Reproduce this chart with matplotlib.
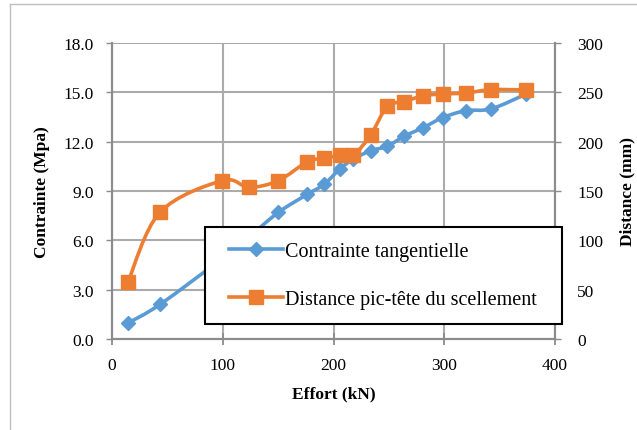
import numpy as np
import matplotlib
matplotlib.use("Agg")
import matplotlib.pyplot as plt
from matplotlib.path import Path
from matplotlib.patches import PathPatch
from matplotlib.lines import Line2D
from matplotlib.legend_handler import HandlerLine2D

# Data
effort = [14.5, 43.3, 99.6, 123.7, 150.2, 176.4, 191.4, 205.9, 218.0, 233.6,
          248.6, 263.7, 281.0, 298.6, 319.6, 342.2, 374.0]
contrainte = [0.97, 2.1, 4.9, 6.2, 7.7, 8.8, 9.4, 10.35, 10.95, 11.45,
              11.72, 12.33, 12.85, 13.46, 13.89, 13.99, 14.9]
distance = [58.1, 128.4, 160.5, 153.7, 160.5, 179.7, 183.1, 186.0, 186.5, 206.8,
            235.8, 240.5, 246.6, 248.3, 249.3, 252.7, 252.4]
xticks = [0, 100, 200, 300, 400]
yticks_left = [0, 3, 6, 9, 12, 15, 18]
yticks_right = [0, 50, 100, 150, 200, 250, 300]
label_blue = "Contrainte tangentielle"
label_orange = "Distance pic-tête du scellement"

BLUE = "#5B9BD5"
ORANGE = "#ED7D31"
GRID = "#ABABAB"
AXC = "#8C8C8C"

plt.rcParams['font.family'] = ['Liberation Serif', 'DejaVu Serif']

def smooth_path(x, y):
    x = np.asarray(x, float); y = np.asarray(y, float)
    P = np.column_stack([x, y])
    n = len(P)
    verts = [P[0]]
    codes = [Path.MOVETO]
    for i in range(n - 1):
        p0 = P[i - 1] if i > 0 else P[i]
        p1 = P[i]
        p2 = P[i + 1]
        p3 = P[i + 2] if i + 2 < n else P[i + 1]
        c1 = p1 + (p2 - p0) / 6.0
        c2 = p2 - (p3 - p1) / 6.0
        verts += [c1, c2, p2]
        codes += [Path.CURVE4] * 3
    return Path(verts, codes)

fig = plt.figure(figsize=(6.37, 4.31), dpi=100)
ax = fig.add_axes([112/637, 1 - 340/431, 443/637, 296/431])
ax2 = ax.twinx()

# smoothed lines
ax.add_patch(PathPatch(smooth_path(effort, contrainte), fill=False, edgecolor=BLUE, lw=2.6, zorder=3))
ax.plot(effort, contrainte, ls='none', marker='D', ms=7.5, color=BLUE, zorder=4)
ax2.add_patch(PathPatch(smooth_path(effort, distance), fill=False, edgecolor=ORANGE, lw=2.6, zorder=3))
ax2.plot(effort, distance, ls='none', marker='s', ms=9.5, color=ORANGE, zorder=4)

ax.set_xlim(0, 400)
ax.set_ylim(0, 18)
ax2.set_ylim(0, 300)
ax.set_xticks(xticks)
ax.set_yticks(yticks_left)
ax.set_yticklabels([f"{v:.1f}" for v in yticks_left])
ax2.set_yticks(yticks_right)
ax2.set_yticklabels([str(v) for v in yticks_right])

ax.grid(True, color=GRID, lw=1.5)
ax.set_axisbelow(True)
for a in (ax, ax2):
    a.spines['top'].set_visible(False)
    for s in ('left', 'right', 'bottom'):
        a.spines[s].set_color(AXC)
        a.spines[s].set_linewidth(1.5)
ax.tick_params(axis='y', direction='out', length=4, width=1, color=AXC, labelsize=12.5, pad=9)
ax.tick_params(axis='x', direction='inout', length=8, width=1.3, color=AXC, labelsize=12.5, pad=9)
ax2.tick_params(axis='y', direction='out', length=4, width=1, color=AXC, labelsize=12.5, pad=12)

ax.set_xlabel("Effort (kN)", fontsize=12.5, fontweight='bold', labelpad=9)
ax.set_ylabel("Contrainte (Mpa)", fontsize=12.5, fontweight='bold', labelpad=10)
ax2.set_ylabel("Distance (mm)", fontsize=12.5, fontweight='bold', labelpad=12, rotation=90)

handles = [Line2D([], [], color=BLUE, lw=2.6, marker='D', ms=7.5),
           Line2D([], [], color=ORANGE, lw=2.6, marker='s', ms=9.5)]
hm = {h: HandlerLine2D(xpad=0.45) for h in handles}
leg = ax2.legend(handles, [label_blue, label_orange], loc='upper left',
                 bbox_to_anchor=(0.21, 0.057, 0.806, 0.321), mode='expand',
                 fontsize=14.5, handlelength=3.1, handletextpad=0.12,
                 labelspacing=1.4, borderpad=0.75, borderaxespad=0,
                 handler_map=hm,
                 fancybox=False, framealpha=1, edgecolor='black')
leg.get_frame().set_linewidth(1.5)
leg.set_zorder(10)

# chart frame (left and top visible)
fig.add_artist(Line2D([10/637, 10/637], [0, 1 - 5/431], transform=fig.transFigure, color='#BFBFBF', lw=1))
fig.add_artist(Line2D([10/637, 1], [1 - 5/431, 1 - 5/431], transform=fig.transFigure, color='#BFBFBF', lw=1))

fig.savefig("out.png", dpi=100)
